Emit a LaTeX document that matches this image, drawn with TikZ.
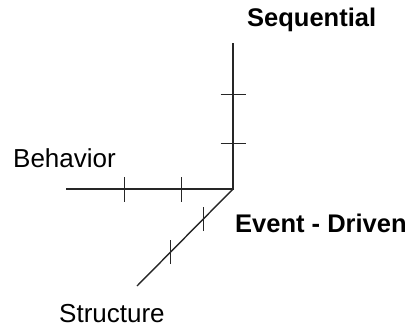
\documentclass[tikz,border=0pt]{standalone}
\usepackage{fontspec}
\setmainfont{Liberation Sans}
\usetikzlibrary{calc}
\tikzstyle{axis}=[line width=1.4pt,black!85]
\tikzstyle{tick}=[line width=1.2pt,black!85]
\tikzstyle{lbl}=[font=\fontsize{26}{31}\selectfont,inner sep=0pt,anchor=base west]
\tikzstyle{blbl}=[lbl,font=\fontsize{25.5}{31}\selectfont\bfseries]
\begin{document}
\begin{tikzpicture}[x=1pt,y=1pt]
\useasboundingbox (0,0) rectangle (414,327);
\coordinate (o) at (233,138);
\coordinate (seq) at (233,284);
\coordinate (beh) at (66,138);
\coordinate (str) at (137,41);
\draw[axis] (beh) -- (o) -- (seq);
\draw[axis] (o) -- (str);
% two marks on every axis
\foreach \t in {0.31,0.65}{
  \draw[tick] ($(o)!\t!(seq)$) +(-12.5,0) -- +(12.5,0);
  \draw[tick] ($(o)!\t!(beh)$) +(0,-12.5) -- +(0,12.5);
  \draw[tick] ($(o)!\t!(str)$) +(0,-12) -- +(0,12);
}
\node[blbl] (seqlbl) at (247,300) {Sequential};
\node[lbl]  (behlbl) at (13,160)  {Behavior};
\node[blbl] (evlbl)  at (235,95)  {Event - Driven};
\node[lbl]  (strlbl) at (59,5)    {Structure};
\end{tikzpicture}
\end{document}
